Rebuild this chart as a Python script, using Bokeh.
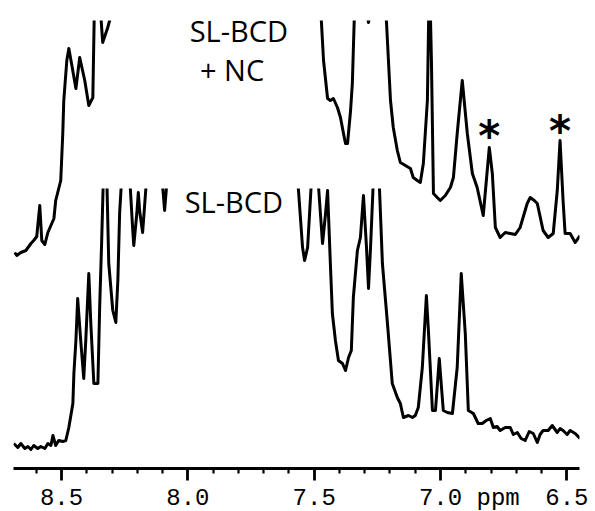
import math
from bokeh.plotting import figure
from bokeh.models import Range1d, FixedTicker, Label, PrintfTickFormatter
from bokeh.core.properties import value
from bokeh.embed import file_html
from bokeh.resources import INLINE

# ---- data (ppm, intensity in arbitrary units) ----
upper_ppm = [8.685, 8.677, 8.661, 8.641, 8.621, 8.610, 8.598, 8.586, 8.578, 8.566,
             8.554, 8.542, 8.530, 8.523, 8.515, 8.503, 8.495, 8.491, 8.479, 8.471,
             8.459, 8.443, 8.428, 8.408, 8.392, 8.376, 8.370, 8.360, 8.345, 8.337,
             8.317, 8.297, 8.266, 8.147, 7.949, 7.752, 7.594, 7.495, 7.475, 7.463,
             7.447, 7.436, 7.424, 7.408, 7.396, 7.384, 7.376, 7.368, 7.356, 7.349,
             7.341, 7.317, 7.293, 7.285, 7.277, 7.246, 7.218, 7.214, 7.198, 7.187,
             7.171, 7.159, 7.139, 7.119, 7.108, 7.092, 7.080, 7.068, 7.052, 7.044,
             7.036, 7.028, 7.013, 7.001, 6.981, 6.961, 6.949, 6.934, 6.914, 6.894,
             6.874, 6.855, 6.831, 6.807, 6.795, 6.783, 6.764, 6.744, 6.724, 6.704,
             6.685, 6.657, 6.645, 6.629, 6.617, 6.594, 6.574, 6.554, 6.538, 6.527,
             6.515, 6.507, 6.487, 6.467, 6.448]
upper_int = [216, 213, 216, 218, 225, 228, 232, 263, 228, 224,
             236, 243, 250, 268, 276, 288, 335, 368, 408, 420,
             403, 380, 411, 388, 363, 371, 460, 510, 455, 426,
             441, 460, 530, 560, 550, 530, 510, 480, 463, 408,
             370, 368, 370, 361, 351, 335, 325, 325, 358, 385,
             453, 498, 458, 446, 458, 498, 458, 447, 368, 341,
             318, 306, 303, 300, 291, 288, 286, 305, 368, 498,
             408, 275, 271, 268, 273, 281, 291, 335, 388, 335,
             295, 281, 253, 321, 295, 241, 231, 236, 235, 234,
             241, 265, 271, 268, 265, 238, 231, 235, 278, 328,
             268, 235, 235, 226, 233]

lower_ppm = [8.689, 8.673, 8.661, 8.645, 8.633, 8.621, 8.610, 8.594, 8.582, 8.566,
             8.554, 8.542, 8.534, 8.523, 8.511, 8.495, 8.483, 8.471, 8.455, 8.451,
             8.443, 8.436, 8.424, 8.412, 8.404, 8.392, 8.384, 8.372, 8.356, 8.349,
             8.341, 8.327, 8.313, 8.297, 8.285, 8.277, 8.270, 8.246, 8.218, 8.214,
             8.202, 8.196, 8.191, 8.179, 8.155, 8.127, 8.100, 8.092, 8.084, 8.068,
             7.949, 7.752, 7.633, 7.574, 7.546, 7.538, 7.526, 7.499, 7.467, 7.455,
             7.447, 7.436, 7.428, 7.416, 7.404, 7.388, 7.376, 7.364, 7.353, 7.345,
             7.329, 7.317, 7.305, 7.293, 7.285, 7.277, 7.254, 7.230, 7.210, 7.191,
             7.171, 7.159, 7.147, 7.127, 7.111, 7.100, 7.088, 7.072, 7.056, 7.048,
             7.032, 7.020, 7.005, 6.989, 6.973, 6.953, 6.934, 6.918, 6.902, 6.890,
             6.870, 6.851, 6.835, 6.819, 6.803, 6.791, 6.776, 6.764, 6.744, 6.724,
             6.712, 6.696, 6.681, 6.665, 6.649, 6.633, 6.617, 6.606, 6.594, 6.574,
             6.558, 6.538, 6.527, 6.515, 6.499, 6.487, 6.467, 6.448]
lower_int = [25, 21, 25, 20, 22, 19, 23, 20, 22, 20,
             25, 23, 33, 23, 28, 27, 28, 41, 65, 95,
             128, 170, 128, 90, 128, 195, 145, 85, 85, 161,
             228, 360, 205, 158, 146, 188, 255, 360, 238, 223,
             255, 276, 258, 236, 318, 360, 283, 258, 283, 318,
             380, 400, 370, 320, 221, 208, 221, 340, 225, 255,
             278, 205, 155, 128, 108, 105, 98, 111, 118, 171,
             218, 231, 273, 221, 180, 221, 360, 205, 145, 85,
             71, 65, 51, 53, 51, 53, 61, 101, 173, 138,
             58, 58, 110, 58, 56, 55, 101, 195, 135, 58,
             55, 45, 45, 48, 50, 41, 42, 38, 41, 41,
             34, 36, 30, 28, 37, 35, 26, 34, 38, 38,
             43, 36, 40, 38, 34, 38, 35, 30]
lower_cap = 280  # plotted height limit of the lower trace

labels_text = ["SL-BCD", "+ NC", "SL-BCD"]
labels_ppm = [7.798, 7.825, 7.818]
labels_int = [438, 399, 267]

star_ppm = [6.807, 6.527]
star_int = [332, 337]

tick_vals = [8.5, 8.0, 7.5, 7.0, 6.5]
minor_vals = [8.6, 8.4, 8.3, 8.2, 8.1, 7.9, 7.8, 7.7, 7.6, 7.4, 7.3, 7.2, 7.1,
              6.9, 6.8, 6.7, 6.6]
unit_tick = 7.0
unit_text = "ppm"


def clip_to_cap(xs, ys, cap):
    ox, oy = [], []
    for i in range(len(xs)):
        if i > 0:
            y0, y1 = ys[i - 1], ys[i]
            if (y0 > cap) != (y1 > cap):
                t = (cap - y0) / (y1 - y0)
                ox.append(xs[i - 1] + t * (xs[i] - xs[i - 1]))
                oy.append(cap)
                if y1 > cap:
                    ox.append(math.nan)
                    oy.append(math.nan)
        if ys[i] <= cap:
            ox.append(xs[i])
            oy.append(ys[i])
    return ox, oy


p = figure(frame_width=566, frame_height=448, output_backend="svg",
           toolbar_location=None,
           x_range=Range1d(8.69, 6.45), y_range=Range1d(0, 448),
           min_border_left=13, min_border_right=16, min_border_top=20,
           min_border_bottom=0)
p.outline_line_color = None
p.grid.visible = False
p.yaxis.visible = False
p.background_fill_color = "white"

p.line(upper_ppm, upper_int, line_color="black", line_width=3, line_join="round")
lx, ly = clip_to_cap(lower_ppm, lower_int, lower_cap)
p.line(lx, ly, line_color="black", line_width=3, line_join="round")

p.text(x=star_ppm, y=star_int, text=["*", "*"], text_font=value("DejaVu Sans"),
       text_font_style="bold", text_font_size="42px", text_align="center",
       text_baseline="middle", text_color="#000000")

for t, xx, yy in zip(labels_text, labels_ppm, labels_int):
    p.add_layout(Label(x=xx, y=yy, text=t, text_font="Open Sans",
                       text_font_size="29px", text_align="center",
                       text_baseline="alphabetic", text_color="black"))

ax = p.xaxis[0]
ax.ticker = FixedTicker(ticks=tick_vals, minor_ticks=minor_vals)
ax.formatter = PrintfTickFormatter(format="%.1f")
# the unit sits on the same line as the 7.0 label; left padding keeps "7.0" centred on its tick
ax.major_label_overrides = {unit_tick: "\u00a0" * 4 + "%.1f %s" % (unit_tick, unit_text)}
ax.axis_line_width = 2.8
ax.axis_line_color = "black"
ax.major_tick_line_width = 2.8
ax.major_tick_line_color = "black"
ax.minor_tick_line_width = 2.2
ax.minor_tick_line_color = "black"
ax.major_tick_out = 12
ax.major_tick_in = 0
ax.minor_tick_out = 5
ax.minor_tick_in = 0
ax.major_label_text_font = "Liberation Mono"
ax.major_label_text_font_size = "24px"
ax.major_label_text_color = "black"
ax.major_label_standoff = 4

open("out.html", "w").write(file_html(p, INLINE))
